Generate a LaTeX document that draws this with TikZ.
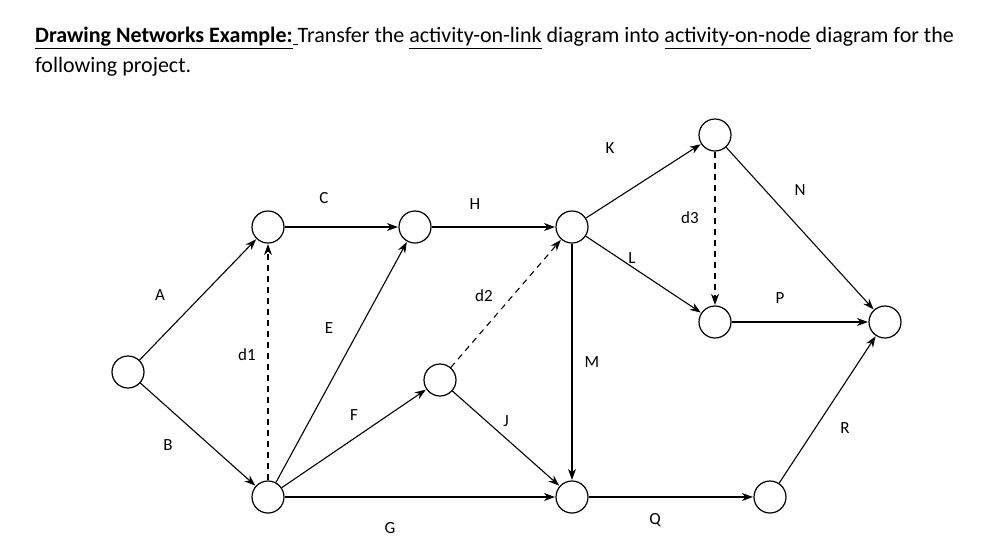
\documentclass[tikz,border=0pt]{standalone}
\usepackage{fontspec}
\setmainfont{Carlito}
\usetikzlibrary{arrows.meta}
\begin{document}
\begin{tikzpicture}[x=1pt,y=-1pt,
  ev/.style={circle,draw,line width=1.2pt,minimum size=32pt,inner sep=0pt},
  act/.style={draw,-{Stealth[length=11pt,width=8pt]},line width=1.1pt,shorten >=0.5pt},
  dum/.style={act,dash pattern=on 6pt off 5pt},
  lab/.style={font=\fontsize{17}{19}\selectfont}]
\useasboundingbox (0,0) rectangle (988,558);
\node[anchor=west,font=\fontsize{22}{26}\selectfont,inner sep=0pt] (t1) at (35,38) {\textbf{\underline{Drawing Networks Example:}}\underline{\ }Transfer the \underline{activity-on-link} diagram into \underline{activity-on-node} diagram for the};
\node[anchor=west,font=\fontsize{22}{26}\selectfont,inner sep=0pt] (t2) at (35,67) {following project.};
\node[ev] (n1) at (128,372) {};
\node[ev] (n2) at (268,227) {};
\node[ev] (n3) at (268,497) {};
\node[ev] (n4) at (415,227) {};
\node[ev] (n5) at (440,380) {};
\node[ev] (n6) at (572,227) {};
\node[ev] (n7) at (572,497) {};
\node[ev] (n8) at (715,135) {};
\node[ev] (n9) at (715,322) {};
\node[ev] (n10) at (885,322) {};
\node[ev] (n11) at (770,497) {};
\draw[act] (n1) -- (n2);
\draw[act] (n1) -- (n3);
\draw[act] (n2) -- (n4);
\draw[dum] (n3) -- (n2);
\draw[act] (n3) -- (n4);
\draw[act] (n3) -- (n5);
\draw[act] (n3) -- (n7);
\draw[act] (n4) -- (n6);
\draw[dum] (n5) -- (n6);
\draw[act] (n5) -- (n7);
\draw[act] (n6) -- (n7);
\draw[act] (n6) -- (n8);
\draw[act] (n6) -- (n9);
\draw[dum] (n8) -- (n9);
\draw[act] (n8) -- (n10);
\draw[act] (n9) -- (n10);
\draw[act] (n7) -- (n11);
\draw[act] (n11) -- (n10);
\node[lab] (lA) at (160,295) {A};
\node[lab] (lB) at (168,445) {B};
\node[lab] (lC) at (324,198) {C};
\node[lab] (ld1) at (247,355) {d1};
\node[lab] (lE) at (329,328) {E};
\node[lab] (lF) at (354,415) {F};
\node[lab] (lG) at (390,528) {G};
\node[lab] (lH) at (475,204) {H};
\node[lab] (ld2) at (484,296) {d2};
\node[lab] (lJ) at (506,421) {J};
\node[lab] (lM) at (592,362) {M};
\node[lab] (lK) at (610,148) {K};
\node[lab] (lL) at (632,258) {L};
\node[lab] (ld3) at (690,218) {d3};
\node[lab] (lN) at (800,190) {N};
\node[lab] (lP) at (780,298) {P};
\node[lab] (lQ) at (655,520) {Q};
\node[lab] (lR) at (845,428) {R};
\end{tikzpicture}
\end{document}
